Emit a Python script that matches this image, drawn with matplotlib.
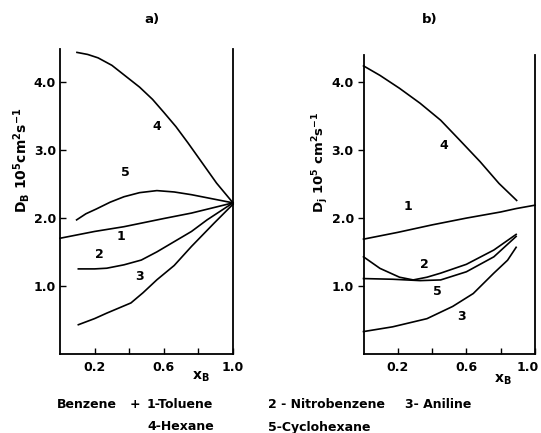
import matplotlib
matplotlib.use("Agg")
import matplotlib.pyplot as plt
from matplotlib.transforms import ScaledTranslation

plt.rcParams['font.family'] = ['DejaVu Sans']
plt.rcParams['font.weight'] = 'bold'

# ---- panel a) D_B vs x_B ----
a_x1 = [0.0, 0.2, 0.37, 0.6, 0.76, 1.0]
a_y1 = [1.70, 1.80, 1.87, 1.99, 2.07, 2.22]
a_x2 = [0.106, 0.2, 0.27, 0.37, 0.47, 0.56, 0.66, 0.76, 0.85, 1.0]
a_y2 = [1.25, 1.25, 1.26, 1.31, 1.38, 1.50, 1.65, 1.80, 1.97, 2.22]
a_x3 = [0.106, 0.2, 0.27, 0.41, 0.48, 0.56, 0.66, 0.76, 0.89, 1.0]
a_y3 = [0.43, 0.52, 0.60, 0.75, 0.90, 1.09, 1.30, 1.58, 1.92, 2.20]
a_x4 = [0.098, 0.16, 0.22, 0.30, 0.38, 0.46, 0.535, 0.60, 0.67, 0.74, 0.81, 0.905, 1.0]
a_y4 = [4.43, 4.40, 4.35, 4.24, 4.08, 3.92, 3.74, 3.55, 3.34, 3.10, 2.85, 2.51, 2.22]
a_x5 = [0.096, 0.15, 0.21, 0.29, 0.37, 0.46, 0.56, 0.66, 0.76, 0.88, 1.0]
a_y5 = [1.97, 2.06, 2.13, 2.23, 2.31, 2.37, 2.40, 2.38, 2.34, 2.28, 2.22]

# ---- panel b) D_j vs x_B ----
b_x1 = [0.0, 0.2, 0.4, 0.6, 0.8, 0.89, 1.0]
b_y1 = [1.69, 1.79, 1.90, 2.00, 2.09, 2.14, 2.19]
b_x2 = [0.0, 0.096, 0.21, 0.29, 0.37, 0.45, 0.60, 0.76, 0.89]
b_y2 = [1.43, 1.26, 1.13, 1.09, 1.13, 1.19, 1.32, 1.53, 1.76]
b_x3 = [0.0, 0.17, 0.37, 0.52, 0.64, 0.76, 0.84, 0.89]
b_y3 = [0.33, 0.40, 0.52, 0.70, 0.89, 1.19, 1.38, 1.57]
b_x4 = [0.0, 0.096, 0.21, 0.33, 0.45, 0.56, 0.68, 0.79, 0.893]
b_y4 = [4.24, 4.10, 3.91, 3.69, 3.44, 3.15, 2.83, 2.51, 2.26]
b_x5 = [0.0, 0.17, 0.33, 0.45, 0.60, 0.76, 0.89]
b_y5 = [1.11, 1.10, 1.08, 1.09, 1.21, 1.43, 1.73]

# curve number labels (x, y)
a_labels = {'4': (0.56, 3.34), '5': (0.38, 2.66), '1': (0.355, 1.73),
            '2': (0.23, 1.46), '3': (0.46, 1.14)}
b_labels = {'4': (0.47, 3.07), '1': (0.26, 2.17), '2': (0.355, 1.31),
            '5': (0.43, 0.92), '3': (0.57, 0.55)}

y_ticks = [1.0, 2.0, 3.0, 4.0]
y_ticklabels = ['1.0', '2.0', '3.0', '4.0']
x_ticks = [0.2, 0.6, 1.0]
x_ticklabels = ['0.2', '0.6', '1.0']
x_minor = [0.4, 0.8]

legend_row1 = ['Benzene', '+', '1-Toluene', '2 - Nitrobenzene', '3- Aniline']
legend_row2 = ['4-Hexane', '5-Cyclohexane']

fig = plt.figure(figsize=(5.41, 4.33), dpi=100)
ax_a = fig.add_axes([60 / 541, 1 - 354 / 433, 173 / 541, 305 / 433])
ax_b = fig.add_axes([363.5 / 541, 1 - 354 / 433, 171.5 / 541, 299 / 433])


def style_axis(ax, ytop, ydir):
    ax.set_xlim(0, 1.0)
    ax.set_ylim(0, ytop)
    ax.spines['top'].set_visible(False)
    for s in ('left', 'bottom', 'right'):
        ax.spines[s].set_linewidth(1.3)
    ax.set_xticks(x_ticks)
    ax.set_xticklabels(x_ticklabels, fontsize=9)
    ax.set_xticks(x_minor, minor=True)
    ax.set_yticks(y_ticks)
    ax.set_yticklabels(y_ticklabels, fontsize=9)
    ax.tick_params(axis='x', which='both', direction='in', length=4, pad=5, width=1)
    ax.tick_params(axis='y', direction=ydir, length=4, pad=3, width=1)
    ax.tick_params(axis='y', right=False)


curves_a = [(a_x1, a_y1), (a_x2, a_y2), (a_x3, a_y3), (a_x4, a_y4), (a_x5, a_y5)]
for xs, ys in curves_a:
    ax_a.plot(xs, ys, color='black', lw=1.2, clip_on=False)
for k, (x, y) in a_labels.items():
    ax_a.text(x, y, k, fontsize=9, ha='center', va='center')
style_axis(ax_a, 4.48, 'in')

curves_b = [(b_x1, b_y1), (b_x2, b_y2), (b_x3, b_y3), (b_x4, b_y4), (b_x5, b_y5)]
for xs, ys in curves_b:
    ax_b.plot(xs, ys, color='black', lw=1.2, clip_on=False)
for k, (x, y) in b_labels.items():
    ax_b.text(x, y, k, fontsize=9, ha='center', va='center')
style_axis(ax_b, 4.4, 'out')
# keep the last tick label of panel b inside the figure
last = ax_b.get_xticklabels()[-1]
last.set_transform(last.get_transform() + ScaledTranslation(-5 / 72, 0, fig.dpi_scale_trans))

# titles, axis labels
fig.text(152 / 541, 1 - 20 / 433, 'a)', fontsize=9.5, ha='center', va='center')
fig.text(430 / 541, 1 - 20 / 433, 'b)', fontsize=9.5, ha='center', va='center')
fig.text(22 / 541, 1 - 160 / 433, r'D$_\mathbf{B}$ 10$^\mathbf{5}$cm$^\mathbf{2}$s$^\mathbf{-1}$',
         fontsize=10, rotation=90, ha='center', va='center')
fig.text(321 / 541, 1 - 162 / 433, r'D$_\mathbf{j}$ 10$^\mathbf{5}$ cm$^\mathbf{2}$s$^\mathbf{-1}$',
         fontsize=9.5, rotation=90, ha='center', va='center')
fig.text(201 / 541, 1 - 377 / 433, r'x$_\mathbf{B}$', fontsize=10, ha='center', va='center')
fig.text(503 / 541, 1 - 380 / 433, r'x$_\mathbf{B}$', fontsize=10, ha='center', va='center')

# legend text
row1_x = [57, 130, 147, 268, 405]
row2_x = [147, 268]
for txt, x in zip(legend_row1, row1_x):
    fig.text(x / 541, 1 - 405 / 433, txt, fontsize=9, va='center')
for txt, x in zip(legend_row2, row2_x):
    fig.text(x / 541, 1 - 427 / 433, txt, fontsize=9, va='center')

fig.savefig('out.png', dpi=100)
